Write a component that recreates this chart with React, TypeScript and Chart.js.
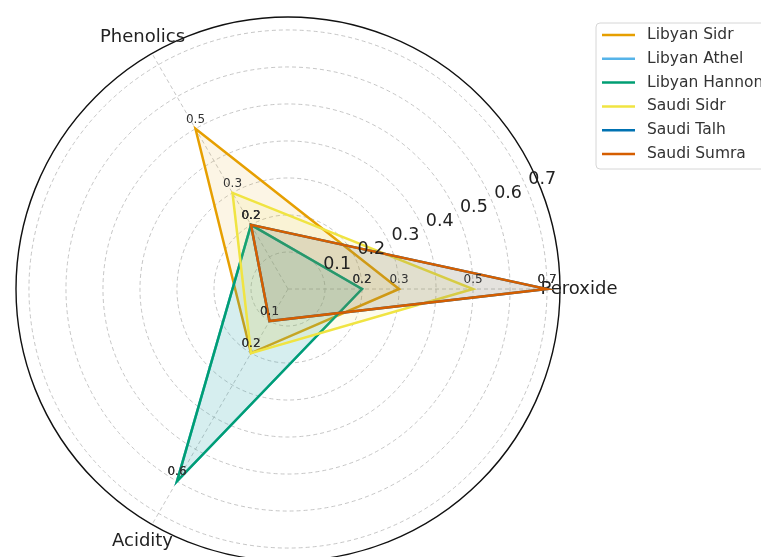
import React, { useEffect, useRef } from "react";
import { Chart, registerables } from "chart.js";

Chart.register(...registerables);

// Axes in clockwise order starting from the right-hand side
const axisLabels = ["Peroxide", "Acidity", "Phenolics"];

const seriesNames = [
  "Libyan Sidr",
  "Libyan Athel",
  "Libyan Hannon",
  "Saudi Sidr",
  "Saudi Talh",
  "Saudi Sumra",
];

const seriesColors = ["#E69F00", "#56B4E9", "#009E73", "#F0E442", "#0072B2", "#D55E00"];

// Values per series: [Peroxide, Acidity, Phenolics]
const libyanSidr = [0.3, 0.2, 0.5];
const libyanAthel = [0.2, 0.6, 0.2];
const libyanHannon = [0.2, 0.6, 0.2];
const saudiSidr = [0.5, 0.2, 0.3];
const saudiTalh = [0.7, 0.1, 0.2];
const saudiSumra = [0.7, 0.1, 0.2];

const seriesValues = [libyanSidr, libyanAthel, libyanHannon, saudiSidr, saudiTalh, saudiSumra];

const radialTicks = [0.1, 0.2, 0.3, 0.4, 0.5, 0.6, 0.7];
const radialMax = 0.735;

const FONT = "'DejaVu Sans', 'Liberation Sans', sans-serif";

function hexToRgba(hex: string, a: number) {
  const n = parseInt(hex.slice(1), 16);
  return `rgba(${(n >> 16) & 255},${(n >> 8) & 255},${n & 255},${a})`;
}

// Outer frame, radial tick labels, axis names, value labels and legend
const polarDecor = {
  id: "polarDecor",
  beforeDatasetsDraw(chart: any) {
    const ctx = chart.ctx;
    const r = chart.scales.r;
    ctx.save();
    // solid outer circle
    ctx.beginPath();
    ctx.arc(r.xCenter, r.yCenter, r.getDistanceFromCenterForValue(r.max), 0, Math.PI * 2);
    ctx.strokeStyle = "#111";
    ctx.lineWidth = 1.4;
    ctx.stroke();

    // axis names
    ctx.font = `18px ${FONT}`;
    ctx.fillStyle = "#222";
    ctx.textAlign = "center";
    ctx.textBaseline = "middle";
    axisLabels.forEach((lbl, i) => {
      const p = r.getPointPosition(i, r.drawingArea + 19);
      ctx.fillText(lbl, p.x, p.y);
    });
    ctx.restore();
  },
  afterDatasetsDraw(chart: any) {
    const ctx = chart.ctx;
    const r = chart.scales.r;
    ctx.save();

    // radial tick labels along 22.5°
    const a = (22.5 * Math.PI) / 180;
    ctx.font = `17.5px ${FONT}`;
    ctx.fillStyle = "#222";
    ctx.textAlign = "left";
    ctx.textBaseline = "bottom";
    radialTicks.forEach((v) => {
      const d = r.getDistanceFromCenterForValue(v);
      const x = r.xCenter + d * Math.cos(a);
      const y = r.yCenter - d * Math.sin(a);
      ctx.fillText(v.toFixed(1), x + 1, y - 2);
    });

    // value labels above each vertex
    ctx.font = `12px ${FONT}`;
    ctx.fillStyle = "#333";
    ctx.textAlign = "center";
    ctx.textBaseline = "bottom";
    chart.data.datasets.forEach((ds: any) => {
      ds.data.forEach((v: number, i: number) => {
        const p = r.getPointPositionForValue(i, v);
        ctx.fillText(v.toFixed(1), p.x, p.y - 3);
      });
    });

    // legend
    const bx = 596, by = 23, bw = 190, bh = 146;
    ctx.beginPath();
    ctx.roundRect(bx, by, bw, bh, 4);
    ctx.fillStyle = "rgba(255,255,255,0.85)";
    ctx.fill();
    ctx.strokeStyle = "#d6d6d6";
    ctx.lineWidth = 1;
    ctx.stroke();
    ctx.font = `15.5px ${FONT}`;
    ctx.textAlign = "left";
    ctx.textBaseline = "middle";
    chart.data.datasets.forEach((ds: any, i: number) => {
      const y = 35 + i * 23.8;
      ctx.beginPath();
      ctx.moveTo(602, y);
      ctx.lineTo(635, y);
      ctx.strokeStyle = ds.borderColor;
      ctx.lineWidth = 2.5;
      ctx.stroke();
      ctx.fillStyle = "#333";
      ctx.fillText(ds.label, 647, y);
    });
    ctx.restore();
  },
};

export default function App() {
  const canvasRef = useRef<HTMLCanvasElement>(null);

  useEffect(() => {
    if (!canvasRef.current) return;
    const chart = new Chart(canvasRef.current, {
      type: "radar",
      data: {
        labels: axisLabels,
        datasets: seriesNames.map((name, i) => ({
          label: name,
          data: seriesValues[i],
          borderColor: seriesColors[i],
          backgroundColor: hexToRgba(seriesColors[i], 0.1),
          borderWidth: 2.5,
          fill: true,
          pointRadius: 0,
          pointHoverRadius: 0,
          tension: 0,
          order: seriesNames.length - i,
        })),
      },
      options: {
        responsive: false,
        animation: false,
        events: [],
        layout: { padding: { left: 16, right: 201, top: 17, bottom: 0 } },
        plugins: {
          legend: { display: false },
          tooltip: { enabled: false },
        },
        scales: {
          r: {
            min: 0,
            max: radialMax,
            startAngle: 90,
            ticks: { display: false, stepSize: 0.1 },
            pointLabels: { display: false },
            grid: {
              circular: true,
              lineWidth: 0.8,
              color: (c: any) => (c.tick && c.tick.value > 0.71 ? "rgba(0,0,0,0)" : "#b8b8b8"),
            },
            border: { dash: [4, 3] },
            angleLines: {
              display: true,
              color: "#b8b8b8",
              lineWidth: 0.8,
              borderDash: [4, 3],
            },
          },
        },
      },
      plugins: [polarDecor],
    } as any);
    return () => chart.destroy();
  }, []);

  return (
    <div
      style={{
        position: "fixed",
        left: 0,
        top: 0,
        width: 761,
        height: 557,
        overflow: "hidden",
        background: "#fff",
      }}
    >
      <canvas ref={canvasRef} width={761} height={561} style={{ display: "block" }} />
    </div>
  );
}
